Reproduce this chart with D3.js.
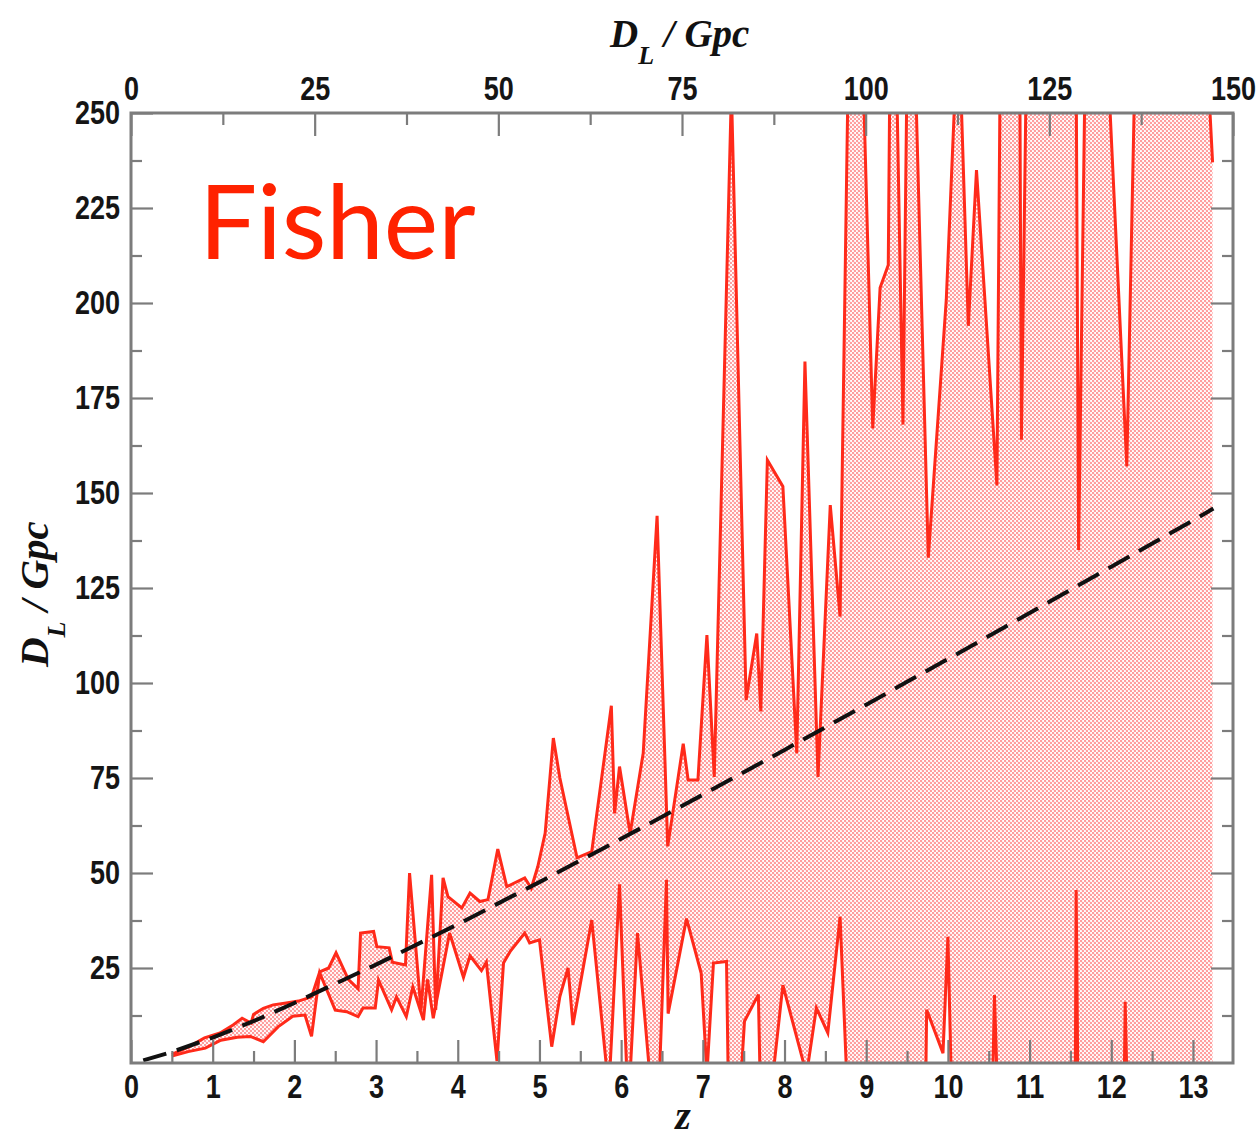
<!DOCTYPE html>
<html>
<head>
<meta charset="utf-8">
<script src="https://cdn.jsdelivr.net/npm/d3@7"></script>
<style>
  html, body { margin: 0; padding: 0; background: #fff; }
  svg { display: block; }
  .tick text { font-family: "Liberation Sans", Arial, sans-serif; font-weight: bold; font-size: 27px; fill: #151515; }
  .tick line { stroke: #7c7c7c; stroke-width: 2.2; }
  .title { font-family: "Liberation Serif", "Times New Roman", serif; font-weight: bold; font-style: italic; font-size: 39px; fill: #111; }
</style>
</head>
<body>
<svg id="chart" width="1259" height="1138"></svg>
<script>
// upper edge of the Fisher error band, D_L in Gpc vs redshift z
var zUpper = [0.50, 0.70, 0.90, 1.09, 1.25, 1.36, 1.47, 1.50, 1.62, 1.74, 1.90, 2.05, 2.21, 2.31, 2.42, 2.51,
  2.66, 2.78, 2.81, 2.97, 3.01, 3.16, 3.20, 3.36, 3.41, 3.55, 3.68, 3.73, 3.82, 3.88, 4.05, 4.15, 4.27, 4.37,
  4.49, 4.60, 4.82, 4.90, 4.98, 5.07, 5.17, 5.25, 5.46, 5.64, 5.88, 5.92, 5.98, 6.11, 6.27, 6.44, 6.57, 6.76,
  6.82, 6.94, 7.05, 7.14, 7.35, 7.53, 7.66, 7.71, 7.79, 7.98, 8.15, 8.25, 8.41, 8.56, 8.68, 8.78, 8.87, 8.96,
  9.08, 9.17, 9.27, 9.29, 9.33, 9.37, 9.45, 9.50, 9.55, 9.60, 9.76, 9.98, 10.10, 10.12, 10.15, 10.25, 10.35,
  10.60, 10.64, 10.76, 10.88, 10.90, 10.96, 11.30, 11.57, 11.60, 11.68, 11.82, 11.96, 12.19, 12.29, 12.70,
  13.18, 13.24];
var dlUpper = [2.3, 4.2, 6.6, 7.9, 10.0, 11.8, 10.5, 12.8, 14.4, 15.3, 15.8, 16.3, 17.4, 24.0, 25.0, 29.0,
  22.0, 19.5, 34.2, 34.6, 30.6, 30.3, 26.5, 25.8, 50.0, 14.0, 49.5, 14.0, 48.7, 43.8, 40.8, 44.7, 42.5, 43.0,
  56.3, 46.4, 48.7, 46.0, 51.7, 60.5, 85.5, 75.0, 54.0, 55.6, 94.0, 65.7, 78.0, 60.4, 81.5, 144.0, 57.0, 84.0,
  74.5, 74.5, 112.6, 75.3, 256, 95.5, 113, 92.5, 158.7, 151.7, 81.5, 184.6, 75.3, 146.8, 117.5, 262, 300, 262,
  167, 204, 210, 262, 300, 262, 168, 262, 300, 262, 133, 200.8, 262, 300, 262, 194, 235,
  152, 262, 300, 262, 164, 262, 300, 262, 135, 262, 300, 262, 157, 262, 300,
  262, 237];

// lower edge of the band
var zLower = [0.50, 0.70, 0.91, 1.10, 1.30, 1.46, 1.62, 1.80, 1.98, 2.13, 2.21, 2.31, 2.50, 2.64, 2.78, 2.84,
  2.99, 3.03, 3.19, 3.25, 3.37, 3.45, 3.58, 3.63, 3.70, 3.90, 4.07, 4.15, 4.29, 4.35, 4.48, 4.56, 4.64, 4.82,
  4.88, 5.00, 5.15, 5.25, 5.35, 5.41, 5.64, 5.83, 5.86, 5.98, 6.07, 6.11, 6.20, 6.35, 6.47, 6.555, 6.575, 6.80,
  6.98, 7.05, 7.13, 7.29, 7.31, 7.47, 7.51, 7.68, 7.70, 7.86, 7.98, 8.27, 8.39, 8.53, 8.68, 8.76, 9.73, 9.74,
  9.94, 10.00, 10.04, 10.55, 10.57, 10.60, 11.56, 11.57, 11.59, 12.16, 12.17, 12.19, 13.24];
var dlLower = [1.8, 3.0, 3.9, 6.0, 6.8, 7.0, 5.6, 9.5, 12.3, 12.6, 7.0, 23.7, 13.9, 13.5, 12.2, 14.5,
  14.5, 21.8, 14.0, 17.4, 12.2, 20.0, 11.3, 22.0, 11.8, 34.2, 22.5, 28.2, 24.3, 26.5, 0.5, 26.3, 29.3, 34.2,
  31.6, 32.4, 4.3, 17.5, 25.0, 10.0, 37.6, -3, -3, 47.0, -3, -3, 34.2, -3, -3, 48.2, 13.0, 38.0,
  23.6, -3, 26.3, 26.7, -3, -3, 11.0, 18.0, -3, -3, 20.5, -3, 14.5, 7.9, 38.5, -3, -3, 14.0,
  2.6, 33.2, -3, -3, 17.9, -3, -3, 45.5, -3, -3, 16.1, -3, -3];

// true luminosity distance (dashed curve)
var zTrue = [0.15, 0.5, 1, 1.5, 2, 3, 4, 5, 6, 7, 8, 9, 10, 11, 12, 13, 13.25];
var dlTrue = [0.7, 2.9, 6.7, 11.0, 15.8, 25.9, 36.5, 47.6, 59.0, 70.6, 82.4, 94.3, 106.3, 118.4, 130.6, 142.8, 145.9];

// tick values
var zTicks = [0, 1, 2, 3, 4, 5, 6, 7, 8, 9, 10, 11, 12, 13];
var zMinor = [0.5, 1.5, 2.5, 3.5, 4.5, 5.5, 6.5, 7.5, 8.5, 9.5, 10.5, 11.5, 12.5];
var topTicks = [0, 25, 50, 75, 100, 125, 150];
var topMinor = [12.5, 37.5, 62.5, 87.5, 112.5, 137.5];
var yTicks = [25, 50, 75, 100, 125, 150, 175, 200, 225, 250];
var yMinor = [12.5, 37.5, 62.5, 87.5, 112.5, 137.5, 162.5, 187.5, 212.5, 237.5];

var pLeft = 131, pRight = 1233, pTop = 113, pBottom = 1063;

var svg = d3.select('#chart');
var x = d3.scaleLinear().domain([0, 13.49]).range([pLeft, pRight]);
var xTop = d3.scaleLinear().domain([0, 150]).range([pLeft, pRight]);
var y = d3.scaleLinear().domain([0, 250]).range([pBottom, pTop]);

var defs = svg.append('defs');
defs.append('clipPath').attr('id', 'plot')
  .append('rect').attr('x', pLeft).attr('y', pTop)
    .attr('width', pRight - pLeft).attr('height', pBottom - pTop);

// stippled pink fill
var pat = defs.append('pattern').attr('id', 'dots')
    .attr('patternUnits', 'userSpaceOnUse')
    .attr('width', 4).attr('height', 4);
pat.append('rect').attr('width', 4).attr('height', 4).attr('fill', '#fff');
pat.append('circle').attr('cx', 1).attr('cy', 1).attr('r', 1.25).attr('fill', '#ff9c9c');
pat.append('circle').attr('cx', 3).attr('cy', 3).attr('r', 1.25).attr('fill', '#ff9c9c');

var upper = zUpper.map(function(z, i) { return [z, dlUpper[i]]; });
var lower = zLower.map(function(z, i) { return [z, dlLower[i]]; });
var truth = zTrue.map(function(z, i) { return [z, dlTrue[i]]; });

var line = d3.line()
    .x(function(d) { return x(d[0]); })
    .y(function(d) { return y(d[1]); });

var plot = svg.append('g').attr('clip-path', 'url(#plot)');

plot.append('path')
    .attr('d', line(upper.concat(lower.slice().reverse())) + 'Z')
    .attr('fill', 'url(#dots)')
    .attr('stroke', 'none');

[upper, lower].forEach(function(pts) {
  plot.append('path')
      .attr('d', line(pts))
      .attr('fill', 'none')
      .attr('stroke', '#ff2a1a')
      .attr('stroke-width', 3)
      .attr('stroke-linejoin', 'miter');
});

plot.append('path')
    .attr('d', line(truth))
    .attr('fill', 'none')
    .attr('stroke', '#111')
    .attr('stroke-width', 4)
    .attr('stroke-dasharray', '24,11');

// axes (ticks point inward)
function clean(g) {
  g.select('.domain').remove();
  g.selectAll('.tick text').attr('transform', 'scale(1,1.2)');
}

svg.append('g').attr('transform', 'translate(0,' + pBottom + ')')
    .call(d3.axisBottom(x).tickValues(zTicks).tickSize(-23).tickPadding(10).tickFormat(d3.format('d')))
    .call(clean);
svg.append('g').attr('transform', 'translate(0,' + pBottom + ')')
    .call(d3.axisBottom(x).tickValues(zMinor).tickSize(-12).tickFormat(''))
    .call(clean);

svg.append('g').attr('transform', 'translate(0,' + pTop + ')')
    .call(d3.axisTop(xTop).tickValues(topTicks).tickSize(-23).tickPadding(11).tickFormat(d3.format('d')))
    .call(clean);
svg.append('g').attr('transform', 'translate(0,' + pTop + ')')
    .call(d3.axisTop(xTop).tickValues(topMinor).tickSize(-12).tickFormat(''))
    .call(clean);

svg.append('g').attr('transform', 'translate(' + pLeft + ',0)')
    .call(d3.axisLeft(y).tickValues(yTicks).tickSize(-22).tickPadding(11).tickFormat(d3.format('d')))
    .call(clean);
svg.append('g').attr('transform', 'translate(' + pLeft + ',0)')
    .call(d3.axisLeft(y).tickValues(yMinor).tickSize(-11).tickFormat(''))
    .call(clean);

svg.append('g').attr('transform', 'translate(' + pRight + ',0)')
    .call(d3.axisRight(y).tickValues(yTicks).tickSize(-22).tickFormat(''))
    .call(clean);
svg.append('g').attr('transform', 'translate(' + pRight + ',0)')
    .call(d3.axisRight(y).tickValues(yMinor).tickSize(-11).tickFormat(''))
    .call(clean);

svg.append('rect')
    .attr('x', pLeft).attr('y', pTop)
    .attr('width', pRight - pLeft).attr('height', pBottom - pTop)
    .attr('fill', 'none')
    .attr('stroke', '#7c7c7c')
    .attr('stroke-width', 3);

// titles
function dlTitle(t) {
  t.append('tspan').text('D');
  t.append('tspan').attr('font-size', 26).attr('dy', 17).text('L');
  t.append('tspan').attr('dy', -17).text(' / Gpc');
}
svg.append('text').attr('class', 'title')
    .attr('x', 610).attr('y', 47)
    .call(dlTitle);
svg.append('text').attr('class', 'title')
    .attr('transform', 'translate(48,667) rotate(-90)')
    .style('font-size', '41px')
    .call(dlTitle);
svg.append('text').attr('class', 'title')
    .attr('x', 683).attr('y', 1129)
    .attr('text-anchor', 'middle')
    .style('font-size', '40px')
    .text('z');

svg.append('text')
    .attr('x', 199).attr('y', 259)
    .attr('font-family', 'Lato, "Open Sans", sans-serif')
    .attr('font-size', 103)
    .attr('fill', '#ff2200')
    .text('Fisher');
</script>
</body>
</html>
